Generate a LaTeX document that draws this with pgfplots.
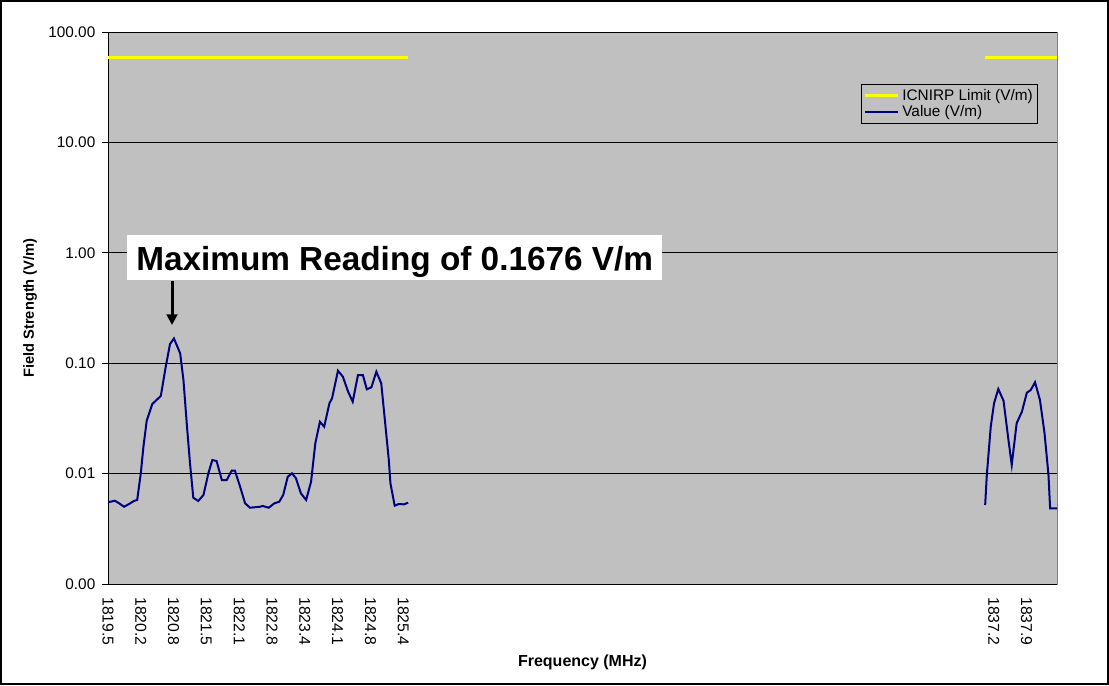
\documentclass[border=0pt]{standalone}
\usepackage{fontspec}
\setmainfont{Liberation Sans}
\usepackage{pgfplots}
\pgfplotsset{compat=1.18}
\usepackage{pgfplotstable}
\usetikzlibrary{arrows.meta}
\definecolor{plotgray}{HTML}{C0C0C0}
\definecolor{limityellow}{HTML}{FFFF00}
\definecolor{valueblue}{HTML}{000080}

\pgfplotstableread{
x y
0 0.0055
2.1 0.00568
3.4 0.00538
4.9 0.00501
6.4 0.00530
7.9 0.00565
8.9 0.00577
10.0 0.01006
10.8 0.0175
11.8 0.0301
13.5 0.0427
16.1 0.0505
17.6 0.0929
18.9 0.149
20.1 0.1676
22.0 0.1229
23.0 0.0704
24.0 0.0286
25.0 0.0124
26.0 0.00605
27.5 0.00565
29.1 0.0064
30.6 0.01006
31.8 0.01328
33.1 0.0130
34.7 0.00875
36.2 0.00875
37.7 0.01062
38.7 0.01062
40.2 0.00773
41.8 0.00538
43.3 0.00491
46.3 0.00501
47.2 0.00509
49.0 0.00491
50.7 0.00538
52.2 0.00556
53.4 0.0064
54.8 0.00937
56.1 0.01006
57.3 0.00907
58.8 0.00663
60.4 0.00577
61.9 0.00844
63.2 0.0188
64.6 0.0295
65.9 0.0266
67.5 0.0433
68.3 0.0481
69.5 0.0704
70.1 0.0855
71.6 0.0755
73.2 0.0552
74.6 0.0448
76.2 0.0781
77.7 0.0781
78.9 0.0580
80.3 0.0605
81.8 0.0838
83.3 0.0657
84.5 0.0286
85.6 0.0133
86.1 0.00817
87.4 0.00512
88.6 0.0053
90.2 0.00527
91.5 0.00545
150 nan
267.4 0.0052
267.9 0.00971
269.1 0.0266
270.1 0.0433
271.4 0.0584
273.0 0.0457
274.5 0.0201
275.5 0.0120
277.0 0.0286
278.6 0.0364
280.1 0.0540
281.3 0.0572
282.6 0.0672
284.1 0.0464
285.5 0.0232
286.7 0.00971
287.2 0.00485
289.3 0.00485
}\valuedata

\pgfplotstableread{
x y
0 58.66
91.3 58.66
150 nan
267.4 58.66
289.3 58.66
}\limitdata

\begin{document}
\begin{tikzpicture}
\begin{scope}[x=0.75pt,y=-0.75pt]
\useasboundingbox (0,0) rectangle (1109,685);
\draw[line width=1.5pt] (1.2,1.2) rectangle (1107.8,683.8);
\end{scope}
\begin{axis}[
  at={(81pt,-438pt)}, anchor=south west,
  scale only axis, width=711.75pt, height=414pt,
  ymode=log, ymin=0.001, ymax=100,
  xmin=0, xmax=289.3,
  unbounded coords=jump,
  axis background/.style={fill=plotgray, draw=gray},
  axis x line*=bottom, axis y line*=left,
  axis line style={-, black, line width=0.75pt},
  ytick={0.001,0.01,0.1,1,10,100},
  yticklabels={0.00,0.01,0.10,1.00,10.00,100.00},
  yminorticks=false,
  ymajorgrids, grid style={black, line width=0.75pt},
  tick align=outside, major tick length=4.5pt,
  ytick style={black, line width=0.75pt},
  xtick={0,10,20,30,40,50,60,70,80,90,270,280},
  xticklabels={1819.5,1820.2,1820.8,1821.5,1822.1,1822.8,1823.4,1824.1,1824.8,1825.4,1837.2,1837.9},
  xtick style={draw=none},
  xticklabel style={rotate=-90, anchor=west, font=\fontsize{11.8}{13}\selectfont},
  yticklabel style={font=\fontsize{11.5}{13}\selectfont},
  xticklabel shift=2pt, yticklabel shift=1.5pt,
  /pgf/number format/assume math mode=true,
  ylabel={Field Strength (V/m)},
  ylabel style={at={(axis description cs:-0.0822,0.5)}, anchor=center, rotate=0, font=\bfseries\fontsize{11}{12}\selectfont},
  xlabel={Frequency (MHz)},
  xlabel style={at={(axis description cs:0.5,-0.1413)}, anchor=center, font=\bfseries\fontsize{12}{13}\selectfont},
  legend style={at={(axis description cs:0.7935,0.9058)}, anchor=north west,
    fill=plotgray, draw=black, line width=0.5pt, font=\fontsize{11.5}{12}\selectfont,
    inner xsep=1.5pt, inner ysep=1.5pt, row sep=-1.5pt},
  legend cell align=left,
  legend image code/.code={\draw[#1] (0pt,0pt) -- (25pt,0pt);},
]
\addplot[limityellow, line width=2.25pt] table[x=x,y=y] {\limitdata};
\addlegendentry{ICNIRP Limit (V/m)}
\addplot[valueblue, line width=1.5pt] table[x=x,y=y] {\valuedata};
\addlegendentry{Value (V/m)}
\end{axis}
\begin{scope}[x=0.75pt,y=-0.75pt]
\fill[white] (127,235) rectangle (662,280);
\node[anchor=base west, inner sep=0, font=\bfseries\fontsize{25}{27}\selectfont] at (136,270) {Maximum Reading of 0.1676 V/m};
\draw[line width=2.25pt, -{Triangle[width=8pt,length=8pt]}] (172,281) -- (172,325);
\end{scope}
\end{tikzpicture}
\end{document}
